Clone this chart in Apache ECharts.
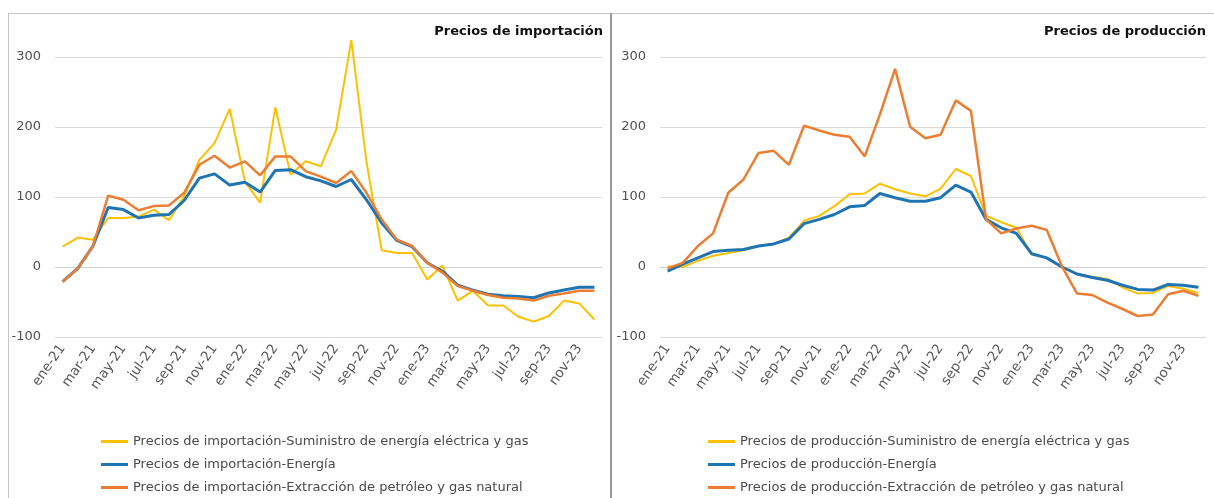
<!DOCTYPE html>
<html>
<head>
<meta charset="utf-8">
<script src="https://cdn.jsdelivr.net/npm/echarts@6/dist/echarts.min.js"></script>
<style>
  html, body { margin: 0; padding: 0; background: #fff; }
  #wrap { position: relative; width: 1214px; height: 498px; overflow: hidden; }
  .chart { position: absolute; top: 14px; height: 484px; }
  #chartImp { left: 8px; width: 603px; }
  #chartProd { left: 612px; width: 602px; }
  .frame { position: absolute; top: 13px; left: 8px; right: -2px; bottom: -5px;
           border-top: 1px solid #c4c4c4; border-left: 1px solid #c4c4c4; }
  .divider { position: absolute; top: 13px; bottom: 0; left: 610px; width: 2px; background: #9a9a9a; }
</style>
</head>
<body>
<div id="wrap">
  <div class="frame"></div>
  <div class="divider"></div>
  <div id="chartImp" class="chart"></div>
  <div id="chartProd" class="chart"></div>
</div>
<script>
// meses ene-21 .. dic-23
var meses = ['ene-21','feb-21','mar-21','abr-21','may-21','jun-21','jul-21','ago-21','sep-21','oct-21','nov-21','dic-21',
             'ene-22','feb-22','mar-22','abr-22','may-22','jun-22','jul-22','ago-22','sep-22','oct-22','nov-22','dic-22',
             'ene-23','feb-23','mar-23','abr-23','may-23','jun-23','jul-23','ago-23','sep-23','oct-23','nov-23','dic-23'];

// Precios de importación
var impElectrica = [29, 42, 39, 70, 70, 72, 82, 67, 101, 153, 177, 226, 122, 92, 228, 132, 151, 144, 196, 324, 150, 24, 20, 20, -18, 2, -48, -34, -55, -55, -71, -78, -70, -48, -52, -75];
var impEnergia   = [-21, -2, 30, 85, 82, 70, 74, 75, 95, 127, 133, 117, 121, 107, 138, 139, 129, 123, 115, 125, 96, 63, 38, 29, 6, -6, -26, -33, -39, -41, -42, -44, -37, -33, -29, -29];
var impPetroleo  = [-21, -2, 30, 102, 96, 81, 87, 88, 106, 146, 159, 142, 151, 131, 158, 158, 137, 129, 120, 137, 106, 68, 39, 30, 6, -8, -27, -34, -40, -44, -45, -48, -41, -38, -34, -34];

// Precios de producción
var prodElectrica = [1, 0, 9, 16, 20, 24, 30, 33, 42, 66, 73, 87, 104, 105, 119, 111, 105, 101, 112, 140, 130, 73, 64, 56, 18, 13, 0, -10, -14, -17, -29, -38, -37, -27, -31, -37];
var prodEnergia   = [-6, 4, 13, 22, 24, 25, 30, 33, 40, 62, 68, 75, 86, 88, 105, 99, 94, 94, 99, 117, 107, 68, 56, 48, 19, 13, 0, -10, -15, -19, -26, -32, -33, -25, -26, -29];
var prodPetroleo  = [-2, 6, 30, 48, 106, 125, 163, 166, 146, 202, 195, 189, 186, 158, 218, 283, 200, 184, 189, 238, 223, 68, 48, 55, 59, 53, 1, -38, -40, -51, -60, -70, -68, -39, -34, -41];

var colores = ['#FFC000', '#1F74B4', '#ED7D31'];
var fuente = '"DejaVu Sans", "Liberation Sans", Arial, sans-serif';

function buildOption(titulo, nombres, datos, grid, legendLeft) {
  var anchos = [2, 3, 2.5];
  var series = [];
  for (var i = 0; i < datos.length; i++) {
    series.push({
      name: nombres[i],
      type: 'line',
      xAxisIndex: 0,
      data: datos[i],
      symbol: 'none',
      clip: false,
      lineStyle: { width: anchos[i], color: colores[i] },
      itemStyle: { color: colores[i] },
      z: 2 + i
    });
  }
  return {
    animation: false,
    textStyle: { fontFamily: fuente },
    title: {
      text: titulo, right: 3, top: 6,
      textStyle: { fontFamily: fuente, fontWeight: 'bold', fontSize: 13, color: '#111' }
    },
    legend: {
      orient: 'vertical', left: legendLeft, top: 421, padding: 0, height: 70,
      itemGap: 10, itemWidth: 27, itemHeight: 3, icon: 'rect',
      textStyle: { fontFamily: fuente, fontSize: 13, color: '#4a4a4a' },
      data: nombres
    },
    grid: grid,
    xAxis: [{
      type: 'category', data: meses, boundaryGap: true, position: 'bottom',
      axisLine: { onZero: true, lineStyle: { color: '#d0d0d0', width: 1 } },
      axisTick: { interval: 1, length: 5, lineStyle: { color: '#d0d0d0' } },
      axisLabel: { show: false }
    }, {
      type: 'category', data: meses, boundaryGap: true, position: 'bottom',
      axisLine: { show: false, onZero: false },
      axisTick: { show: false },
      axisLabel: { interval: 1, rotate: 55, margin: 9, fontSize: 13.5, color: '#595959', fontFamily: fuente }
    }],
    yAxis: {
      type: 'value', min: -100, max: 300, interval: 100,
      axisLine: { show: false }, axisTick: { show: false },
      splitLine: { lineStyle: { color: '#dadada', width: 1 } },
      axisLabel: { margin: 14, fontSize: 13, color: '#505050', fontFamily: fuente }
    },
    series: series
  };
}

var chartImp = echarts.init(document.getElementById('chartImp'));
chartImp.setOption(buildOption('Precios de importación',
  ['Precios de importación-Suministro de energía eléctrica y gas',
   'Precios de importación-Energía',
   'Precios de importación-Extracción de petróleo y gas natural'],
  [impElectrica, impEnergia, impPetroleo],
  { left: 47, right: 9, top: 43, bottom: 161, outerBoundsMode: 'none' }, 93));

var chartProd = echarts.init(document.getElementById('chartProd'));
chartProd.setOption(buildOption('Precios de producción',
  ['Precios de producción-Suministro de energía eléctrica y gas',
   'Precios de producción-Energía',
   'Precios de producción-Extracción de petróleo y gas natural'],
  [prodElectrica, prodEnergia, prodPetroleo],
  { left: 48, right: 8, top: 43, bottom: 161, outerBoundsMode: 'none' }, 96));
</script>
</body>
</html>
